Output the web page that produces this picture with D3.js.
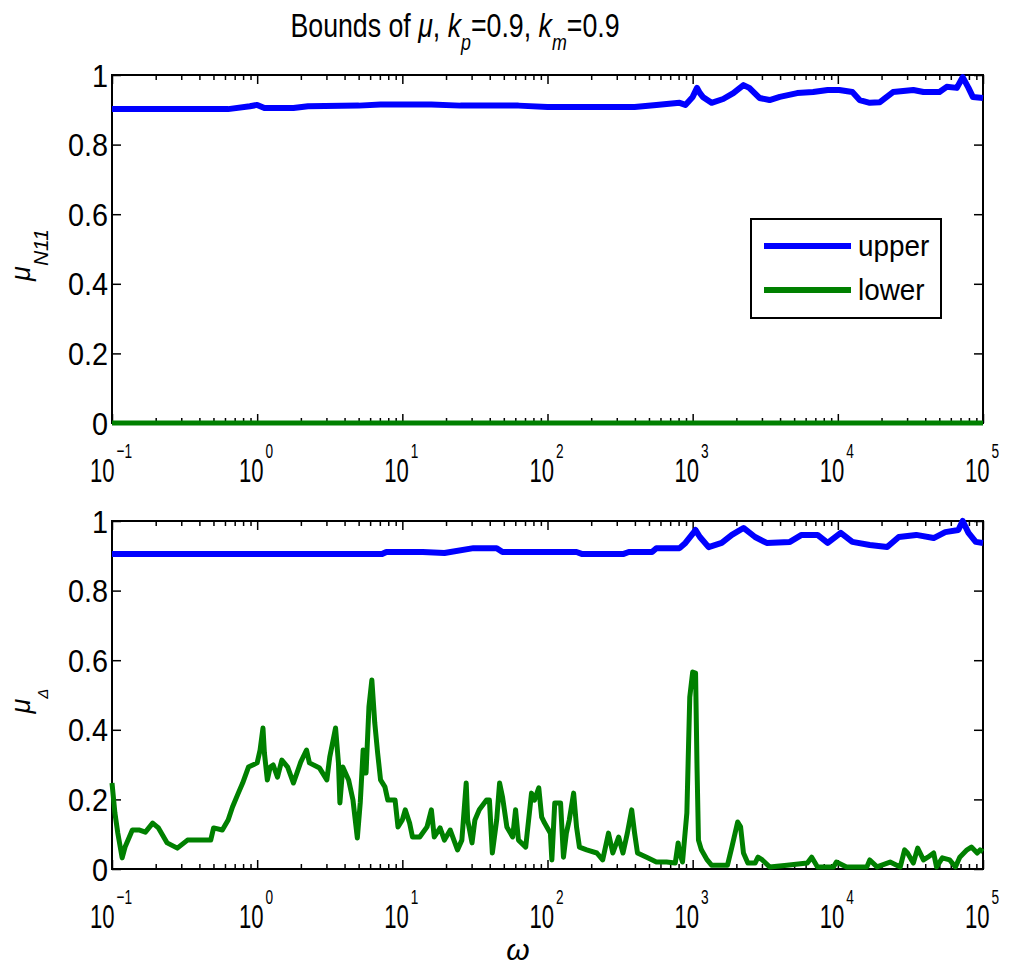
<!DOCTYPE html>
<html lang="en">
<head>
<meta charset="UTF-8">
<title>Bounds of mu</title>
<style>
  body { margin: 0; background: #fff; }
  svg { display: block; font-family: "Liberation Sans", Arial, sans-serif; }
  .tick line { stroke: #000; stroke-width: 1.5; }
</style>
</head>
<body>
<svg id="chart" width="1011" height="970"></svg>
<script src="https://d3js.org/d3.v7.min.js"></script>
<script>
// samples: log10(omega) and mu
const upperTopLogW = [-1.00, -0.20, -0.05, 0.00, 0.05, 0.25, 0.35, 0.70, 0.85, 1.20, 1.40, 1.80, 2.00, 2.60, 2.75,
  2.91, 2.95, 3.00, 3.03, 3.05, 3.07, 3.13, 3.21, 3.28, 3.35, 3.39, 3.46, 3.53, 3.60, 3.72, 3.83, 3.93, 4.01,
  4.10, 4.15, 4.22, 4.29, 4.38, 4.52, 4.59, 4.70, 4.75, 4.82, 4.86, 4.90, 4.93, 5.00];
const upperTopMu = [0.902, 0.902, 0.910, 0.914, 0.905, 0.905, 0.910, 0.912, 0.915, 0.915, 0.912, 0.912, 0.908, 0.908, 0.914,
  0.920, 0.914, 0.937, 0.963, 0.948, 0.937, 0.920, 0.931, 0.948, 0.971, 0.963, 0.934, 0.928, 0.937, 0.948, 0.951, 0.957, 0.957,
  0.951, 0.928, 0.920, 0.922, 0.951, 0.957, 0.951, 0.951, 0.966, 0.963, 0.994, 0.963, 0.937, 0.934];

const lowerTopLogW = [-1.00, 5.00];
const lowerTopMu = [0, 0];

const upperBotLogW = [-1.00, 0.86, 0.89, 1.14, 1.29, 1.49, 1.65, 1.69, 2.20, 2.24, 2.52, 2.56, 2.72, 2.75, 2.91,
  2.95, 3.02, 3.05, 3.11, 3.20, 3.27, 3.35, 3.43, 3.51, 3.67, 3.75, 3.86, 3.93, 4.02, 4.10, 4.22, 4.34,
  4.42, 4.54, 4.66, 4.74, 4.83, 4.86, 4.90, 4.95, 5.00];
const upperBotMu = [0.905, 0.905, 0.911, 0.911, 0.908, 0.922, 0.922, 0.911, 0.911, 0.905, 0.905, 0.911, 0.911, 0.922, 0.922,
  0.937, 0.974, 0.954, 0.925, 0.937, 0.960, 0.980, 0.954, 0.937, 0.940, 0.960, 0.960, 0.937, 0.966, 0.940, 0.931, 0.925,
  0.954, 0.960, 0.951, 0.968, 0.974, 1.000, 0.966, 0.940, 0.937];

const lowerBotLogW = [-1.00, -0.98, -0.96, -0.93, -0.91, -0.86, -0.81, -0.77, -0.72, -0.68, -0.62, -0.55, -0.48, -0.41,
  -0.32, -0.30, -0.24, -0.20, -0.17, -0.13, -0.10, -0.06, 0.00, 0.02, 0.04, 0.05, 0.07, 0.09, 0.11, 0.14, 0.17,
  0.21, 0.25, 0.30, 0.34, 0.36, 0.43, 0.48, 0.50, 0.54, 0.56, 0.57, 0.59, 0.63, 0.66, 0.69, 0.71, 0.73, 0.75,
  0.77, 0.79, 0.81, 0.83, 0.85, 0.88, 0.90, 0.95, 0.97, 1.00, 1.02, 1.05, 1.07, 1.12, 1.17, 1.20, 1.22, 1.26,
  1.29, 1.33, 1.38, 1.41, 1.44, 1.45, 1.48, 1.50, 1.53, 1.58, 1.60, 1.62, 1.65, 1.67, 1.69, 1.72, 1.76, 1.78,
  1.80, 1.85, 1.86, 1.89, 1.91, 1.94, 1.96, 1.98, 2.02, 2.03, 2.05, 2.09, 2.11, 2.13, 2.15, 2.18, 2.20, 2.22,
  2.27, 2.34, 2.38, 2.42, 2.45, 2.49, 2.52, 2.55, 2.58, 2.60, 2.62, 2.69, 2.75, 2.82, 2.88, 2.90, 2.91, 2.93,
  2.96, 2.98, 3.00, 3.02, 3.03, 3.04, 3.06, 3.10, 3.13, 3.24, 3.27, 3.31, 3.33, 3.35, 3.38, 3.43, 3.45, 3.48,
  3.53, 3.65, 3.79, 3.82, 3.86, 3.97, 3.99, 4.06, 4.20, 4.22, 4.27, 4.36, 4.43, 4.46, 4.48, 4.52, 4.55, 4.59,
  4.62, 4.66, 4.68, 4.72, 4.77, 4.81, 4.84, 4.89, 4.92, 4.96, 4.98, 5.00];
const lowerBotMu = [0.247, 0.161, 0.103, 0.032, 0.063, 0.112, 0.112, 0.106, 0.132, 0.118, 0.075, 0.060, 0.083, 0.083,
  0.083, 0.118, 0.112, 0.141, 0.178, 0.218, 0.247, 0.293, 0.305, 0.342, 0.405, 0.333, 0.256, 0.293, 0.299, 0.264, 0.313,
  0.293, 0.247, 0.307, 0.342, 0.305, 0.290, 0.256, 0.322, 0.405, 0.305, 0.190, 0.293, 0.256, 0.198, 0.089, 0.190, 0.342, 0.276,
  0.466, 0.543, 0.420, 0.333, 0.256, 0.236, 0.198, 0.198, 0.121, 0.141, 0.170, 0.132, 0.092, 0.092, 0.121, 0.170, 0.092, 0.118,
  0.083, 0.112, 0.055, 0.083, 0.247, 0.141, 0.075, 0.141, 0.170, 0.198, 0.198, 0.046, 0.141, 0.247, 0.207, 0.121, 0.092, 0.170,
  0.083, 0.063, 0.103, 0.218, 0.198, 0.233, 0.149, 0.132, 0.103, 0.026, 0.190, 0.190, 0.034, 0.103, 0.141, 0.218, 0.121, 0.063,
  0.055, 0.046, 0.026, 0.103, 0.046, 0.092, 0.046, 0.103, 0.170, 0.103, 0.046, 0.032, 0.020, 0.020, 0.017, 0.075, 0.046, 0.020,
  0.161, 0.494, 0.566, 0.563, 0.293, 0.083, 0.055, 0.026, 0.011, 0.011, 0.063, 0.135, 0.121, 0.046, 0.017, 0.017, 0.034, 0.026,
  0.006, 0.011, 0.017, 0.034, 0.006, 0.006, 0.020, 0.006, 0.006, 0.026, 0.006, 0.020, 0.006, 0.055, 0.046, 0.017, 0.060, 0.026,
  0.034, 0.046, 0.006, 0.032, 0.026, 0.006, 0.034, 0.055, 0.063, 0.046, 0.055, 0.050];

const yTicks = [0, 0.2, 0.4, 0.6, 0.8, 1];
const yTickLabels = ["0", "0.2", "0.4", "0.6", "0.8", "1"];
const xDecades = [-1, 0, 1, 2, 3, 4, 5];
const legendLabels = ["upper", "lower"];
const blue = "#0000ff", green = "#008000";

const svg = d3.select("#chart");
const left = 112, right = 983;
const x = d3.scaleLog().domain([1e-1, 1e5]).range([left, right]);

const majors = xDecades.map(e => Math.pow(10, e));
const minors = [];
xDecades.slice(0, -1).forEach(e => {
  for (let m = 2; m <= 9; m++) minors.push(m * Math.pow(10, e));
});

const panels = [
  { top: 75, bottom: 423, upper: [upperTopLogW, upperTopMu], lower: [lowerTopLogW, lowerTopMu], sub: "N11", subSize: 21, legend: true },
  { top: 521, bottom: 869, upper: [upperBotLogW, upperBotMu], lower: [lowerBotLogW, lowerBotMu], sub: "\u0394", subSize: 15, xlabel: true }
];

// title
const title = svg.append("g").attr("transform", "translate(455,37) scale(0.81,1)")
  .append("text").attr("text-anchor", "middle").attr("font-size", 33);
title.append("tspan").text("Bounds of ");
title.append("tspan").attr("font-style", "italic").text("\u03bc");
title.append("tspan").text(", ");
title.append("tspan").attr("font-style", "italic").text("k");
title.append("tspan").attr("font-style", "italic").attr("font-size", 22).attr("dy", 13).text("p");
title.append("tspan").attr("dy", -13).text("=0.9, ");
title.append("tspan").attr("font-style", "italic").text("k");
title.append("tspan").attr("font-style", "italic").attr("font-size", 22).attr("dy", 13).text("m");
title.append("tspan").attr("dy", -13).text("=0.9");

panels.forEach(p => {
  const y = d3.scaleLinear().domain([0, 1]).range([p.bottom, p.top]);
  const g = svg.append("g");

  g.append("rect")
    .attr("x", left).attr("y", p.top)
    .attr("width", right - left).attr("height", p.bottom - p.top)
    .attr("fill", "none").attr("stroke", "#000").attr("stroke-width", 2);

  // ticks, pointing inward on all four sides
  const noDomain = s => s.select(".domain").remove();
  g.append("g").attr("transform", `translate(0,${p.bottom})`)
    .call(d3.axisBottom(x).tickValues(majors).tickSize(-9).tickFormat("")).call(noDomain);
  g.append("g").attr("transform", `translate(0,${p.bottom})`)
    .call(d3.axisBottom(x).tickValues(minors).tickSize(-5).tickFormat("")).call(noDomain);
  g.append("g").attr("transform", `translate(0,${p.top})`)
    .call(d3.axisTop(x).tickValues(majors).tickSize(-9).tickFormat("")).call(noDomain);
  g.append("g").attr("transform", `translate(0,${p.top})`)
    .call(d3.axisTop(x).tickValues(minors).tickSize(-5).tickFormat("")).call(noDomain);
  g.append("g").attr("transform", `translate(${left},0)`)
    .call(d3.axisLeft(y).tickValues(yTicks).tickSize(-9).tickFormat("")).call(noDomain);
  g.append("g").attr("transform", `translate(${right},0)`)
    .call(d3.axisRight(y).tickValues(yTicks).tickSize(-9).tickFormat("")).call(noDomain);

  // data lines
  const line = d3.line().x(d => x(Math.pow(10, d[0]))).y(d => y(d[1]));
  g.append("path").datum(d3.zip(p.upper[0], p.upper[1]))
    .attr("d", line).attr("fill", "none").attr("stroke", blue)
    .attr("stroke-width", 6).attr("stroke-linejoin", "round");
  g.append("path").datum(d3.zip(p.lower[0], p.lower[1]))
    .attr("d", line).attr("fill", "none").attr("stroke", green)
    .attr("stroke-width", 5).attr("stroke-linejoin", "round");

  // y tick labels
  yTicks.forEach((v, i) => {
    g.append("g").attr("transform", `translate(${left - 4},${y(v) + 11.5}) scale(0.9,1)`)
      .append("text").attr("text-anchor", "end").attr("font-size", 32).text(yTickLabels[i]);
  });

  // x tick labels 10^n
  xDecades.forEach(e => {
    const outer = g.append("g");
    const inner = outer.append("g").attr("transform", "scale(0.65,1)");
    const base = inner.append("text").attr("font-size", 34).text("10");
    const w = base.node().getComputedTextLength();
    inner.append("text").attr("font-size", 21).attr("x", w + 3).attr("y", -24)
      .text(e < 0 ? "\u2212" + (-e) : String(e));
    const bw = inner.node().getBBox().width * 0.65;
    outer.attr("transform", `translate(${x(Math.pow(10, e)) - bw / 2 - 1},${p.bottom + 59})`);
  });

  // y label: mu with subscript
  const cy = (p.top + p.bottom) / 2 + 6;
  const yl = g.append("text").attr("transform", `translate(30,${cy}) rotate(-90)`)
    .attr("text-anchor", "middle").attr("font-size", 27);
  yl.append("tspan").attr("font-style", "italic").text("\u03bc");
  yl.append("tspan").attr("font-style", "italic").attr("font-size", p.subSize).attr("dy", 18).text(p.sub);

  if (p.xlabel) {
    g.append("text").attr("x", 518).attr("y", 960).attr("text-anchor", "middle")
      .attr("font-size", 30).attr("font-style", "italic").text("\u03c9");
  }

  if (p.legend) {
    const lg = g.append("g");
    lg.append("rect").attr("x", 751).attr("y", 219).attr("width", 190).attr("height", 99)
      .attr("fill", "#fff").attr("stroke", "#000").attr("stroke-width", 2);
    legendLabels.forEach((name, i) => {
      const ly = 246 + i * 44;
      lg.append("line").attr("x1", 764).attr("x2", 851).attr("y1", ly).attr("y2", ly)
        .attr("stroke", i === 0 ? blue : green).attr("stroke-width", 6);
      lg.append("g").attr("transform", `translate(858,${ly + 10}) scale(0.93,1)`)
        .append("text").attr("font-size", 30).text(name);
    });
  }
});
</script>
</body>
</html>
